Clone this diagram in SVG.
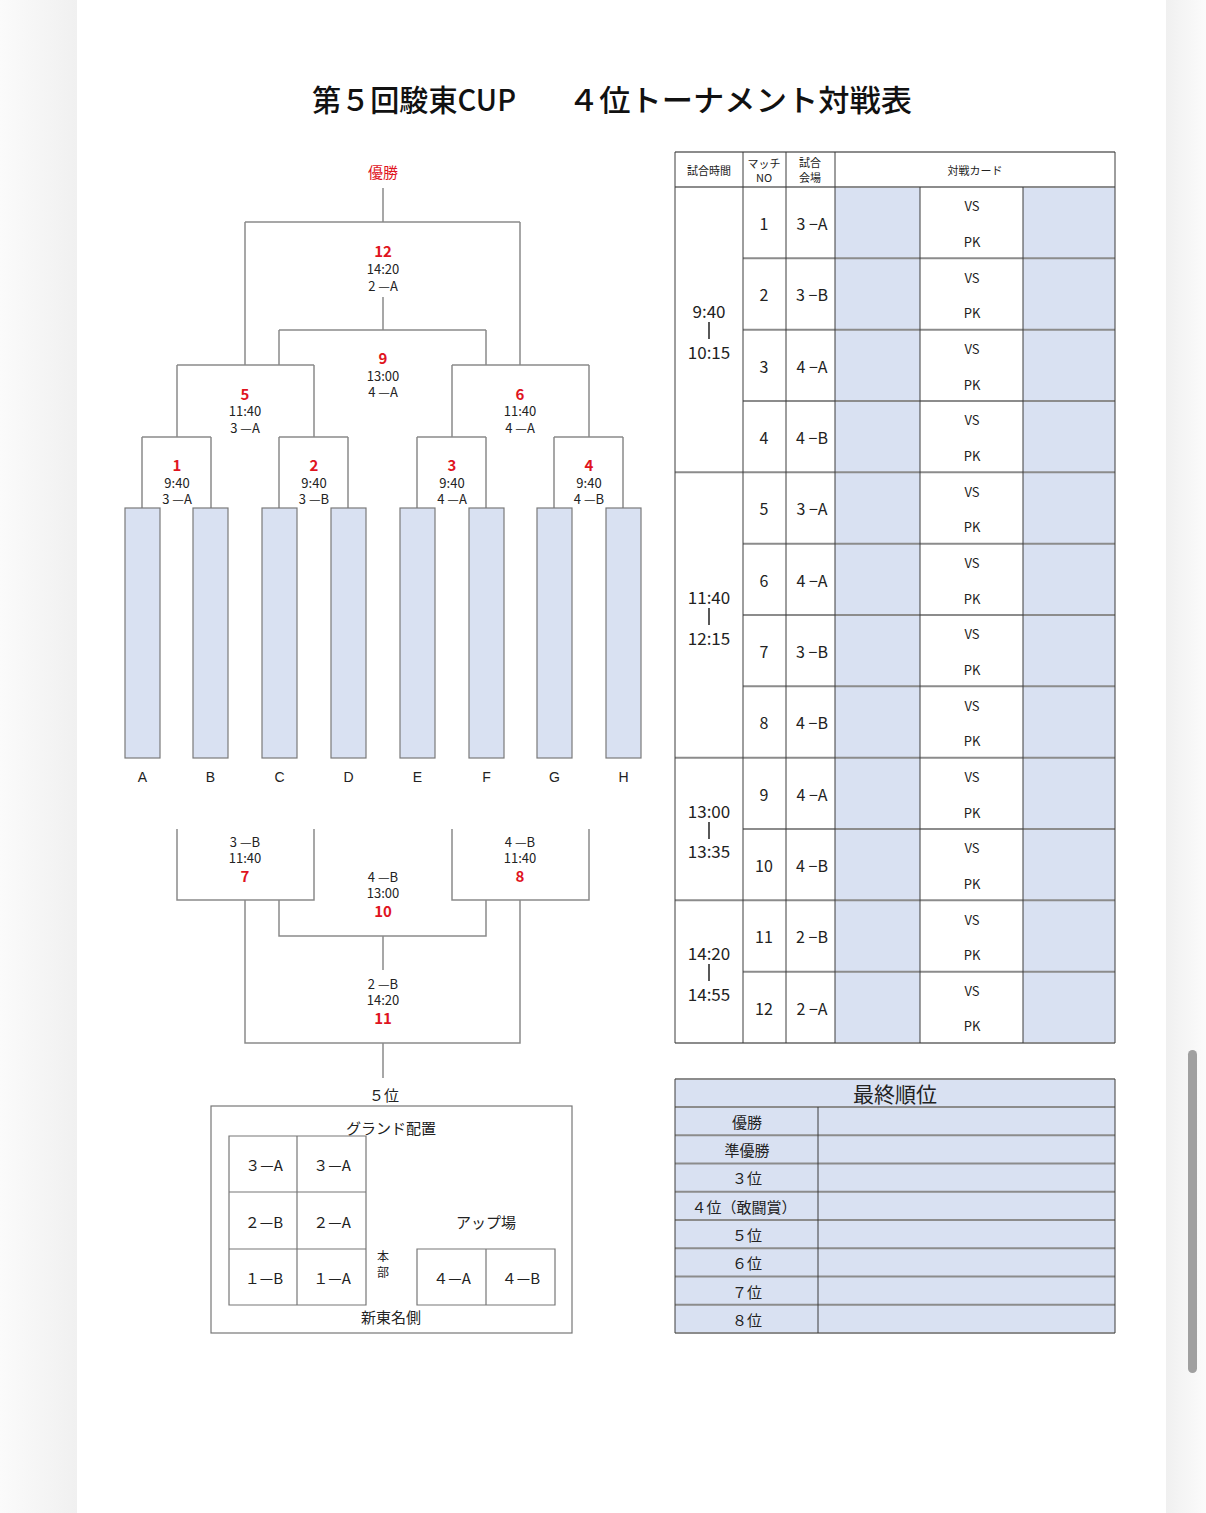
<svg xmlns="http://www.w3.org/2000/svg" width="1206" height="1513" viewBox="0 0 1206 1513">
<defs>
<linearGradient id="shL" x1="0" y1="0" x2="1" y2="0">
<stop offset="0" stop-color="#fbfbfb"/><stop offset="1" stop-color="#f0f0f0"/>
</linearGradient>
<linearGradient id="shR" x1="0" y1="0" x2="1" y2="0">
<stop offset="0" stop-color="#f0f0f0"/><stop offset="1" stop-color="#fbfbfb"/>
</linearGradient>
<style>
.t{font-family:"Noto Sans CJK JP","Liberation Sans",sans-serif;fill:#222;text-anchor:middle;dominant-baseline:central}
.s13{font-size:13px}
.s12{font-size:11px}
.s15{font-size:15px}
.s16{font-size:16px}
.s17{font-size:17px}
.red{fill:#e0141e;font-weight:bold;font-size:15px}
.lat{font-family:"Liberation Sans",Arial,sans-serif;font-size:14px;fill:#222;text-anchor:middle;dominant-baseline:central}
.br{stroke:#8a8a8a;stroke-width:1.5;fill:none}
.team{fill:#d9e1f2;stroke:#7a7a7a;stroke-width:1.2}
.blue{fill:#d9e1f2}
.hl{stroke:#8c8c8c;stroke-width:2;fill:none}
.vl{stroke:#3c3c3c;stroke-width:1;fill:none}
.gl{stroke:#777;stroke-width:1.2;fill:none}
.bar{stroke:#222;stroke-width:1.5;fill:none}
</style>
</defs>
<rect x="0" y="0" width="1206" height="1513" fill="#f7f7f7"/>
<rect x="0" y="0" width="77" height="1513" fill="url(#shL)"/>
<rect x="1166" y="0" width="40" height="1513" fill="url(#shR)"/>
<rect x="77" y="0" width="1089" height="1513" fill="#ffffff"/>
<rect x="1188" y="1050" width="9" height="323" rx="4.5" fill="#a0a0a0"/>

<g id="title">
<text x="312" y="98" class="t" style="font-size:30px;text-anchor:start;fill:#111;font-weight:500" textLength="204" lengthAdjust="spacingAndGlyphs">第５回駿東CUP</text>
<text x="568" y="98" class="t" style="font-size:30px;text-anchor:start;fill:#111;font-weight:500" textLength="344" lengthAdjust="spacingAndGlyphs">４位トーナメント対戦表</text>
</g>

<g id="connectors">
<path class="br" d="M383 188V222M245 222H520M245 222V365M520 222V365"/>
<path class="br" d="M383 297V330M279 330H486M279 330V365M486 330V365"/>
<path class="br" d="M177 365H314M177 365V437M314 365V437"/>
<path class="br" d="M452 365H589M452 365V437M589 365V437"/>
<path class="br" d="M142 437H211M142 437V508M211 437V508"/>
<path class="br" d="M279 437H348M279 437V508M348 437V508"/>
<path class="br" d="M417 437H486M417 437V508M486 437V508"/>
<path class="br" d="M554 437H623M554 437V508M623 437V508"/>
<path class="br" d="M177 829V900H314V829"/>
<path class="br" d="M452 829V900H589V829"/>
<path class="br" d="M279 900V936H486V900"/>
<path class="br" d="M245 900V1043H520V900"/>
<path class="br" d="M383 936V970M383 1043V1078"/>
</g>

<g id="champion"><text x="383" y="171" class="t red" style="font-weight:normal">優勝</text></g>

<g id="teams">
<rect class="team" x="125" y="508" width="35" height="250"/>
<rect class="team" x="193" y="508" width="35" height="250"/>
<rect class="team" x="262" y="508" width="35" height="250"/>
<rect class="team" x="331" y="508" width="35" height="250"/>
<rect class="team" x="400" y="508" width="35" height="250"/>
<rect class="team" x="469" y="508" width="35" height="250"/>
<rect class="team" x="537" y="508" width="35" height="250"/>
<rect class="team" x="606" y="508" width="35" height="250"/>
<text class="lat" x="142.5" y="777">A</text>
<text class="lat" x="210.5" y="777">B</text>
<text class="lat" x="279.5" y="777">C</text>
<text class="lat" x="348.5" y="777">D</text>
<text class="lat" x="417.5" y="777">E</text>
<text class="lat" x="486.5" y="777">F</text>
<text class="lat" x="554.5" y="777">G</text>
<text class="lat" x="623.5" y="777">H</text>
</g>

<g id="m12"><text class="t red" x="383" y="250">12</text><text class="t s13" x="383" y="268">14:20</text><text class="t s13" x="383" y="285">2 —A</text></g>
<g id="m9"><text class="t red" x="383" y="357">9</text><text class="t s13" x="383" y="375">13:00</text><text class="t s13" x="383" y="391">4 —A</text></g>
<g id="m5"><text class="t red" x="245" y="393">5</text><text class="t s13" x="245" y="410">11:40</text><text class="t s13" x="245" y="427">3 —A</text></g>
<g id="m6"><text class="t red" x="520" y="393">6</text><text class="t s13" x="520" y="410">11:40</text><text class="t s13" x="520" y="427">4 —A</text></g>
<g id="m1"><text class="t red" x="177" y="464">1</text><text class="t s13" x="177" y="482">9:40</text><text class="t s13" x="177" y="498">3 —A</text></g>
<g id="m2"><text class="t red" x="314" y="464">2</text><text class="t s13" x="314" y="482">9:40</text><text class="t s13" x="314" y="498">3 —B</text></g>
<g id="m3"><text class="t red" x="452" y="464">3</text><text class="t s13" x="452" y="482">9:40</text><text class="t s13" x="452" y="498">4 —A</text></g>
<g id="m4"><text class="t red" x="589" y="464">4</text><text class="t s13" x="589" y="482">9:40</text><text class="t s13" x="589" y="498">4 —B</text></g>
<g id="m7"><text class="t s13" x="245" y="841">3 —B</text><text class="t s13" x="245" y="857">11:40</text><text class="t red" x="245" y="875">7</text></g>
<g id="m8"><text class="t s13" x="520" y="841">4 —B</text><text class="t s13" x="520" y="857">11:40</text><text class="t red" x="520" y="875">8</text></g>
<g id="m10"><text class="t s13" x="383" y="876">4 —B</text><text class="t s13" x="383" y="892">13:00</text><text class="t red" x="383" y="910">10</text></g>
<g id="m11"><text class="t s13" x="383" y="983">2 —B</text><text class="t s13" x="383" y="999">14:20</text><text class="t red" x="383" y="1017">11</text></g>
<g id="fifth"><text class="t s15" x="384" y="1094">５位</text></g>

<g id="ground">
<rect class="gl" x="211" y="1106" width="361" height="227"/>
<text class="t s15" x="391" y="1127">グランド配置</text>
<path class="gl" d="M229 1136H366V1305H229ZM297 1136V1305M229 1192H366M229 1249H366"/>
<text class="t s15" x="264" y="1164">３—A</text><text class="t s15" x="332" y="1164">３—A</text>
<text class="t s15" x="264" y="1221">２—B</text><text class="t s15" x="332" y="1221">２—A</text>
<text class="t s15" x="264" y="1277">１—B</text><text class="t s15" x="332" y="1277">１—A</text>
<text class="t" style="font-size:12px" x="383" y="1255">本</text><text class="t" style="font-size:12px" x="383" y="1271">部</text>
<text class="t s15" x="486" y="1221">アップ場</text>
<path class="gl" d="M417 1249H555V1305H417ZM486 1249V1305"/>
<text class="t s15" x="452" y="1277">４—A</text><text class="t s15" x="521" y="1277">４—B</text>
<text class="t s15" x="391" y="1316">新東名側</text>
</g>

<g id="schedule">
<rect x="675" y="152" width="440" height="891" fill="#fff"/>
<rect class="blue" x="835" y="187" width="85" height="856"/>
<rect class="blue" x="1023" y="187" width="92" height="856"/>
<path class="hl" d="M675 152H1115M675 187H1115M675 472.33H1115M675 757.67H1115M675 900.33H1115M675 1043H1115"/>
<path class="hl" d="M743 258.33H1115M743 329.67H1115M743 401H1115M743 543.67H1115M743 615H1115M743 686.33H1115M743 829H1115M743 971.67H1115"/>
<path class="vl" d="M675 152V1043M743 152V1043M786 152V1043M835 152V1043M920 187V1043M1023 187V1043M1115 152V1043"/>
<text class="t s12" x="709" y="170">試合時間</text>
<text class="t s12" x="764" y="163">マッチ</text><text class="t s12" x="764" y="177">NO</text>
<text class="t s12" x="810" y="162">試合</text><text class="t s12" x="810" y="177">会場</text>
<text class="t s12" x="975" y="170">対戦カード</text>
<text class="t s17" x="709" y="310">9:40</text><text class="t s17" x="709" y="351">10:15</text>
<text class="t s17" x="709" y="596">11:40</text><text class="t s17" x="709" y="637">12:15</text>
<text class="t s17" x="709" y="810">13:00</text><text class="t s17" x="709" y="850">13:35</text>
<text class="t s17" x="709" y="952">14:20</text><text class="t s17" x="709" y="993">14:55</text>
<path class="bar" d="M709 322V339M709 608V625M709 822V839M709 964V981"/>
<g>
<text class="t s16" x="764" y="223">1</text><text class="t s16" x="812" y="223">3 −A</text>
<text class="t s16" x="764" y="294">2</text><text class="t s16" x="812" y="294">3 −B</text>
<text class="t s16" x="764" y="366">3</text><text class="t s16" x="812" y="366">4 −A</text>
<text class="t s16" x="764" y="437">4</text><text class="t s16" x="812" y="437">4 −B</text>
<text class="t s16" x="764" y="508">5</text><text class="t s16" x="812" y="508">3 −A</text>
<text class="t s16" x="764" y="580">6</text><text class="t s16" x="812" y="580">4 −A</text>
<text class="t s16" x="764" y="651">7</text><text class="t s16" x="812" y="651">3 −B</text>
<text class="t s16" x="764" y="722">8</text><text class="t s16" x="812" y="722">4 −B</text>
<text class="t s16" x="764" y="794">9</text><text class="t s16" x="812" y="794">4 −A</text>
<text class="t s16" x="764" y="865">10</text><text class="t s16" x="812" y="865">4 −B</text>
<text class="t s16" x="764" y="936">11</text><text class="t s16" x="812" y="936">2 −B</text>
<text class="t s16" x="764" y="1008">12</text><text class="t s16" x="812" y="1008">2 −A</text>
</g>
<g>
<text class="t s13" x="972" y="205">VS</text><text class="t s13" x="972" y="241">PK</text>
<text class="t s13" x="972" y="277">VS</text><text class="t s13" x="972" y="312">PK</text>
<text class="t s13" x="972" y="348">VS</text><text class="t s13" x="972" y="384">PK</text>
<text class="t s13" x="972" y="419">VS</text><text class="t s13" x="972" y="455">PK</text>
<text class="t s13" x="972" y="491">VS</text><text class="t s13" x="972" y="526">PK</text>
<text class="t s13" x="972" y="562">VS</text><text class="t s13" x="972" y="598">PK</text>
<text class="t s13" x="972" y="633">VS</text><text class="t s13" x="972" y="669">PK</text>
<text class="t s13" x="972" y="705">VS</text><text class="t s13" x="972" y="740">PK</text>
<text class="t s13" x="972" y="776">VS</text><text class="t s13" x="972" y="812">PK</text>
<text class="t s13" x="972" y="847">VS</text><text class="t s13" x="972" y="883">PK</text>
<text class="t s13" x="972" y="919">VS</text><text class="t s13" x="972" y="954">PK</text>
<text class="t s13" x="972" y="990">VS</text><text class="t s13" x="972" y="1025">PK</text>
</g>
</g>

<g id="ranking">
<rect class="blue" x="675" y="1079" width="440" height="254"/>
<path class="hl" d="M675 1079H1115M675 1107H1115M675 1135.25H1115M675 1163.5H1115M675 1191.75H1115M675 1220H1115M675 1248.25H1115M675 1276.5H1115M675 1304.75H1115M675 1333H1115"/>
<path class="vl" d="M675 1079V1333M1115 1079V1333M818 1107V1333"/>
<text class="t" style="font-size:21px" x="895" y="1093">最終順位</text>
<text class="t s15" x="747" y="1121">優勝</text>
<text class="t s15" x="747" y="1149">準優勝</text>
<text class="t s15" x="747" y="1177">３位</text>
<text class="t s15" x="744" y="1206">４位（敢闘賞）</text>
<text class="t s15" x="747" y="1234">５位</text>
<text class="t s15" x="747" y="1262">６位</text>
<text class="t s15" x="747" y="1291">７位</text>
<text class="t s15" x="747" y="1319">８位</text>
</g>
</svg>
